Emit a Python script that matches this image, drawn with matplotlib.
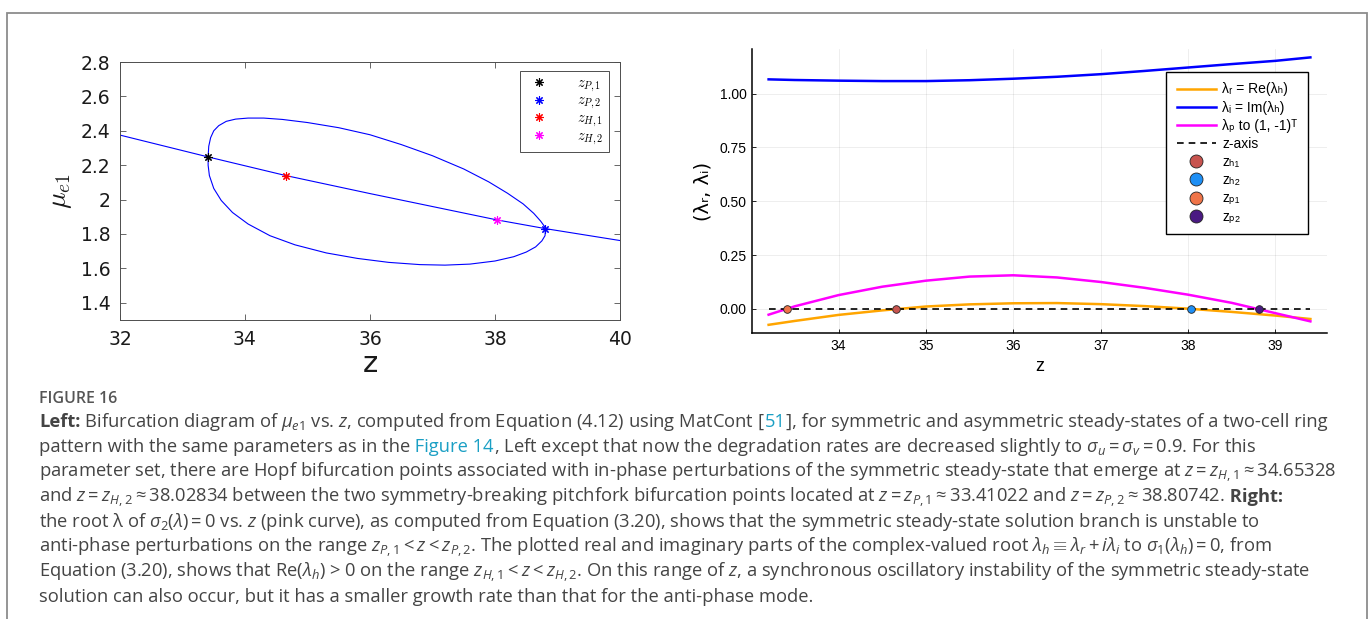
import matplotlib
matplotlib.use('Agg')
import matplotlib.pyplot as plt
from matplotlib.patches import Rectangle
from matplotlib.font_manager import FontProperties
from matplotlib.ticker import FuncFormatter

plt.rcParams['font.family'] = ['Open Sans', 'DejaVu Sans']
plt.rcParams['mathtext.fontset'] = 'custom'
plt.rcParams['mathtext.rm'] = 'Open Sans'
plt.rcParams['mathtext.it'] = 'Open Sans:italic'
plt.rcParams['mathtext.bf'] = 'Open Sans:bold'

# ---- left panel: bifurcation diagram ----
sym_z = [32.0, 33.41, 34.65, 36.0, 38.03, 38.81, 40.0]
sym_mu = [2.375, 2.248, 2.140, 2.035, 1.882, 1.831, 1.762]

loop_z = [33.41, 33.42, 33.45, 33.50, 33.58, 33.70, 33.85, 34.05, 34.30, 34.60,
          35.0, 35.5, 36.0, 36.5, 37.0, 37.5, 37.9, 38.2, 38.45, 38.62, 38.73,
          38.79, 38.81, 38.80, 38.75, 38.65, 38.5, 38.3, 38.0, 37.6, 37.2, 36.8,
          36.3, 35.8, 35.3, 34.8, 34.4, 34.05, 33.8, 33.62, 33.5, 33.43, 33.41, 33.41]
loop_mu = [2.248, 2.31, 2.36, 2.40, 2.43, 2.455, 2.468, 2.474, 2.474, 2.466,
           2.448, 2.418, 2.377, 2.320, 2.255, 2.178, 2.103, 2.037, 1.975, 1.920, 1.875,
           1.845, 1.831, 1.79, 1.76, 1.725, 1.695, 1.668, 1.643, 1.625, 1.619, 1.622,
           1.635, 1.658, 1.690, 1.737, 1.790, 1.858, 1.925, 1.995, 2.065, 2.14, 2.20, 2.248]

bif_labels = [r'$z_{P,1}$', r'$z_{P,2}$', r'$z_{H,1}$', r'$z_{H,2}$']
bif_z = [33.41022, 38.80742, 34.65328, 38.02834]
bif_mu = [2.248, 1.831, 2.140, 1.882]
bif_colors = ['black', 'blue', 'red', 'magenta']

# ---- right panel: eigenvalues vs z ----
z_grid = [33.2, 33.5, 34.0, 34.5, 35.0, 35.5, 36.0, 36.5, 37.0, 37.5, 38.0, 38.5, 39.0, 39.4]
lam_r = [-0.074, -0.056, -0.028, -0.007, 0.011, 0.021, 0.026, 0.027, 0.022, 0.013,
         0.001, -0.014, -0.031, -0.047]
lam_i = [1.066, 1.063, 1.060, 1.058, 1.058, 1.062, 1.069, 1.078, 1.090, 1.105,
         1.121, 1.137, 1.152, 1.168]
lam_p = [-0.027, 0.012, 0.064, 0.103, 0.131, 0.150, 0.156, 0.146, 0.125, 0.098,
         0.066, 0.028, -0.020, -0.058]

pt_labels = ['zₕ₁', 'zₕ₂', 'zₚ₁', 'zₚ₂']
pt_z = [34.65328, 38.02834, 33.41022, 38.80742]
pt_colors = ['#c8544f', '#1e8ff5', '#ef7448', '#4a1a82']

W, H = 1370, 619


def fx(px):
    return px / W


def fy(py):
    return 1 - py / H


fig = plt.figure(figsize=(W / 100, H / 100), dpi=100)

# outer frame
fig.patches.append(Rectangle((fx(6.5), -0.02), fx(1367) - fx(6.5), fy(12.5) + 0.02,
                             transform=fig.transFigure, fill=False,
                             edgecolor='#8c8c8c', linewidth=1.3))

# ------------------------------------------------------------------ left
frame_c = '#4d4d4d'
ax1 = fig.add_axes([fx(120), fy(320), fx(620) - fx(120), (320 - 62) / H])
ax1.plot(sym_z, sym_mu, color='blue', lw=0.8)
ax1.plot(loop_z, loop_mu, color='blue', lw=0.8)
asterisk = (8, 2, 0)
for lab, z, m, c in zip(bif_labels, bif_z, bif_mu, bif_colors):
    ax1.plot([z], [m], linestyle='none', marker=asterisk, color=c, ms=6, mew=0.8, label=lab)
ax1.set_xlim(32, 40)
ax1.set_ylim(1.3, 2.8)
ax1.set_xticks([32, 34, 36, 38, 40])
ax1.set_yticks([1.4, 1.6, 1.8, 2.0, 2.2, 2.4, 2.6, 2.8])
ax1.yaxis.set_major_formatter(FuncFormatter(lambda v, _: '%g' % round(v, 2)))
for s in ax1.spines.values():
    s.set_color(frame_c)
    s.set_linewidth(0.7)
ax1.tick_params(direction='in', top=True, right=True, length=4.5, width=0.6,
                labelsize=13.5, color=frame_c, labelcolor='#1a1a1a',
                labelfontfamily='DejaVu Sans', pad=7)
ax1.set_xlabel('z', fontsize=21, family='DejaVu Sans', color='#1a1a1a', labelpad=1)
ax1.set_ylabel(r'$\mu_{e1}$', fontsize=20, math_fontfamily='cm', color='#1a1a1a', labelpad=5)
leg1 = ax1.legend(loc='upper right', bbox_to_anchor=(fx(609), fy(71)),
                  bbox_transform=fig.transFigure, borderaxespad=0,
                  prop=FontProperties(size=10.5, math_fontfamily='cm'),
                  fancybox=False, framealpha=1, edgecolor=frame_c,
                  handlelength=2.0, handletextpad=1.6, labelspacing=0.0,
                  borderpad=0.35)
leg1.get_frame().set_linewidth(0.7)

# ------------------------------------------------------------------ right
narrow = ['Liberation Sans Narrow', 'Liberation Sans']
ax2 = fig.add_axes([fx(752), fy(333), fx(1327) - fx(752), (333 - 49) / H])
ax2.plot(z_grid, lam_r, color='orange', lw=1.8, label='λᵣ = Re(λₕ)')
ax2.plot(z_grid, lam_i, color='blue', lw=1.8, label='λᵢ = Im(λₕ)')
ax2.plot(z_grid, lam_p, color='magenta', lw=1.8, label='λₚ to (1, -1)ᵀ')
ax2.plot([z_grid[0], z_grid[-1]], [0, 0], color='black', lw=1.2, ls=(0, (4, 3)), label='z-axis')
for lab, z, c in zip(pt_labels, pt_z, pt_colors):
    ax2.plot([z], [0], linestyle='none', marker='o', ms=5.5, mfc=c, mec='#222222',
             mew=0.6, label=lab)
ax2.set_xlim(33.01, 39.59)
ax2.set_ylim(-0.112, 1.207)
ax2.set_xticks([34, 35, 36, 37, 38, 39])
ax2.set_yticks([0.0, 0.25, 0.5, 0.75, 1.0])
ax2.yaxis.set_major_formatter(FuncFormatter(lambda v, _: '%.2f' % v))
ax2.grid(True, color='black', alpha=0.08, lw=0.6)
ax2.spines['top'].set_visible(False)
ax2.spines['right'].set_visible(False)
ax2.spines['left'].set_linewidth(1.1)
ax2.spines['bottom'].set_linewidth(1.1)
ax2.tick_params(direction='in', length=3, width=0.6, labelsize=10, labelfontfamily=narrow, pad=4)
ax2.set_xlabel('z', fontsize=13, family=narrow, labelpad=4)
ax2.set_ylabel('(λᵣ, λᵢ)', fontsize=14, family='DejaVu Sans', labelpad=5)
leg2 = ax2.legend(loc='upper right', bbox_to_anchor=(fx(1308), fy(72)),
                  bbox_transform=fig.transFigure, borderaxespad=0,
                  prop=FontProperties(family=narrow + ['DejaVu Sans'], size=10),
                  fancybox=False, framealpha=1, edgecolor='black',
                  handlelength=2.8, handletextpad=0.5, labelspacing=0.3,
                  borderpad=0.75, markerscale=1.7)
leg2.get_frame().set_linewidth(1.0)

# ------------------------------------------------------------------ caption
TXT = '#444444'
LINK = '#1a9fc4'
cap_size = 13.2

fig.text(fx(39), fy(403), 'FIGURE 16', fontsize=11.5, color='#555555', fontweight='semibold')

caption = [
    [('Left:', TXT, 'bold'),
     (r' Bifurcation diagram of $\mu_{e1}$ vs. $z$, computed from Equation (4.12) using MatCont [', TXT, 'normal'),
     ('51', LINK, 'normal'),
     ('], for symmetric and asymmetric steady-states of a two-cell ring', TXT, 'normal')],
    [('pattern with the same parameters as in the', TXT, 'normal'),
     (' Figure 14', LINK, 'normal'),
     (r', Left except that now the degradation rates are decreased slightly to $\sigma_u = \sigma_v = 0.9$. For this', TXT, 'normal')],
    [(r'parameter set, there are Hopf bifurcation points associated with in-phase perturbations of the symmetric steady-state that emerge at $z = z_{H,1} \approx 34.65328$', TXT, 'normal')],
    [(r'and $z = z_{H,2} \approx 38.02834$ between the two symmetry-breaking pitchfork bifurcation points located at $z = z_{P,1} \approx 33.41022$ and $z = z_{P,2} \approx 38.80742$.', TXT, 'normal'),
     (' Right:', TXT, 'bold')],
    [(r'the root λ of $\sigma_2(\lambda) = 0$ vs. $z$ (pink curve), as computed from Equation (3.20), shows that the symmetric steady-state solution branch is unstable to', TXT, 'normal')],
    [(r'anti-phase perturbations on the range $z_{P,1} < z < z_{P,2}$. The plotted real and imaginary parts of the complex-valued root $\lambda_h \equiv \lambda_r + i\lambda_i$ to $\sigma_1(\lambda_h) = 0$, from', TXT, 'normal')],
    [(r'Equation (3.20), shows that Re($\lambda_h$) > 0 on the range $z_{H,1} < z < z_{H,2}$. On this range of $z$, a synchronous oscillatory instability of the symmetric steady-state', TXT, 'normal')],
    [('solution can also occur, but it has a smaller growth rate than that for the anti-phase mode.', TXT, 'normal')],
]

renderer = fig.canvas.get_renderer()
y_px = 427
for parts in caption:
    x = fx(39)
    for s, c, w in parts:
        t = fig.text(x, fy(y_px), s, fontsize=cap_size, color=c, fontweight=w,
                     va='baseline', ha='left')
        x = t.get_window_extent(renderer).x1 / fig.bbox.width
    y_px += 25

fig.savefig('out.png', dpi=100)
